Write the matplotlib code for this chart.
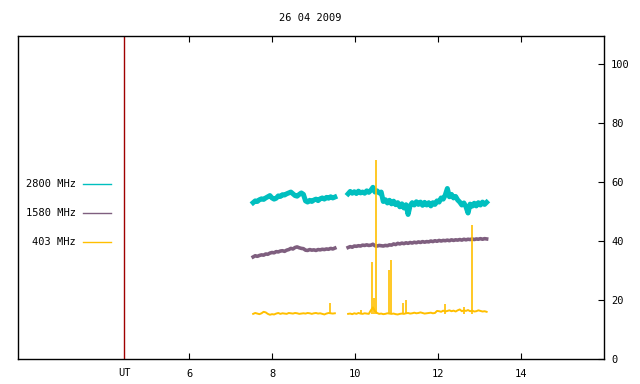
import matplotlib
matplotlib.use("Agg")
import matplotlib.pyplot as plt
from matplotlib.lines import Line2D
import numpy as np

title = "26 04 2009"
labels = ["2800 MHz", "1580 MHz", "403 MHz"]
colors = ["#00bfbf", "#7f5f7f", "#ffbf00"]

# two recording segments (UT hours)
seg1_span = (7.54, 9.51)
seg2_span = (9.83, 13.17)

f2800_a = [53.0, 53.6, 53.4, 54.0, 54.3, 54.1, 54.6, 55.0, 55.4, 54.6,
           54.2, 54.5, 55.3, 55.1, 55.7, 55.6, 56.0, 56.3, 56.6, 56.0,
           55.4, 55.2, 55.8, 56.3, 55.8, 53.6, 53.2, 53.8, 53.4, 53.9,
           54.2, 53.7, 54.3, 54.6, 54.2, 54.8, 54.5, 55.0, 54.6, 54.9]
f2800_b = [56.0, 56.8, 56.2, 56.7, 56.1, 56.9, 56.3, 56.6, 56.2, 57.0,
           56.5, 57.2, 58.2, 56.6, 57.0, 56.3, 56.6, 53.4, 54.0, 52.9,
           53.8, 52.6, 53.5, 52.3, 53.0, 51.6, 52.6, 51.2, 52.3, 49.0,
           52.0, 53.0, 52.2, 53.3, 52.4, 53.2, 52.1, 53.1, 52.2, 53.0,
           51.9, 53.0, 52.4, 53.6, 53.2, 54.6, 54.2, 55.6, 57.8, 55.0,
           55.8, 54.6, 55.1, 53.9, 53.2, 52.2, 52.9, 51.6, 49.5, 52.5,
           51.8, 52.8, 51.9, 53.0, 52.2, 53.2, 52.4, 53.1]

f1580_a = [34.6, 35.0, 34.8, 35.1, 35.3, 35.2, 35.6, 35.5, 35.9, 36.1,
           36.0, 36.4, 36.3, 36.6, 36.7, 36.5, 36.9, 37.1, 37.5, 37.3,
           37.8, 38.0, 37.7, 37.5, 37.4, 36.9, 36.8, 37.1, 36.9, 37.0,
           36.8, 37.1, 37.0, 37.2, 37.1, 37.3, 37.2, 37.5, 37.3, 37.6]
f1580_b = [37.8, 38.1, 37.9, 38.3, 38.2, 38.4, 38.3, 38.6, 38.5, 38.7,
           38.5, 38.6, 38.9, 38.4, 38.3, 38.5, 38.4, 38.3, 38.5, 38.4,
           38.7, 38.6, 39.0, 38.8, 39.2, 39.0, 39.3, 39.1, 39.4, 39.2,
           39.5, 39.3, 39.6, 39.4, 39.7, 39.5, 39.8, 39.6, 39.8, 39.7,
           40.0, 39.8, 40.1, 39.9, 40.2, 40.0, 40.2, 40.1, 40.3, 40.1,
           40.4, 40.2, 40.4, 40.3, 40.5, 40.3, 40.6, 40.4, 40.6, 40.5,
           40.7, 40.5, 40.7, 40.6, 40.8, 40.6, 40.8, 40.7]

f403_a = [15.3, 15.6, 15.4, 15.2, 15.5, 16.0, 15.8, 15.3, 15.0, 15.2,
          15.1, 15.4, 15.6, 15.3, 15.5, 15.4, 15.3, 15.6, 15.5, 15.4,
          15.6, 15.5, 15.3, 15.4, 15.5, 15.4, 15.6, 15.5, 15.3, 15.5,
          15.6, 15.4, 15.5, 15.3, 15.1, 15.4, 15.6, 15.5, 15.4, 15.5]
f403_b = [15.3, 15.4, 15.2, 15.5, 15.3, 15.6, 15.4, 15.3, 15.5, 15.4,
          15.3, 16.5, 17.5, 16.2, 15.6, 15.3, 15.4, 15.2, 15.3, 15.5,
          15.4, 15.3, 15.4, 15.2, 15.1, 15.3, 15.4, 15.3, 15.5, 15.6,
          15.4, 15.5, 15.7, 15.5, 15.6, 15.8, 15.6, 15.4, 15.5, 15.6,
          15.7, 15.5, 15.6, 16.3, 16.2, 16.0, 16.4, 16.1, 16.3, 16.5,
          16.2, 16.4, 16.1, 16.5, 16.8, 16.2, 16.5, 16.3, 16.6, 16.2,
          16.4, 16.1, 16.2, 16.5, 16.3, 16.1, 16.2, 16.0]

# 403 MHz bursts: time, peak
spike_t = [9.39, 10.14, 10.41, 10.46, 10.51, 10.82, 10.87, 11.16, 11.22, 12.17, 12.62, 12.82]
spike_v = [19.1, 16.6, 32.9, 20.7, 67.3, 30.2, 33.6, 19.1, 20.0, 18.6, 17.7, 45.4]
spike_base = 15.4

ut_mark = 4.43
xticks = [6, 8, 10, 12, 14]
yticks = [0, 20, 40, 60, 80, 100]

font = "DejaVu Sans Mono"
fs = 7.5

fig = plt.figure(figsize=(6.4, 3.84), dpi=100)
ax = fig.add_axes([18/640, 25/384, 586/640, 323/384])

t1 = np.linspace(seg1_span[0], seg1_span[1], len(f2800_a))
t2 = np.linspace(seg2_span[0], seg2_span[1], len(f2800_b))

for va, vb, c, lw in [(f403_a, f403_b, colors[2], 1.4),
                      (f1580_a, f1580_b, colors[1], 2.6),
                      (f2800_a, f2800_b, colors[0], 3.6)]:
    ax.plot(t1, va, color=c, lw=lw, solid_joinstyle="round")
    ax.plot(t2, vb, color=c, lw=lw, solid_joinstyle="round")

ax.vlines(spike_t, spike_base, spike_v, color=colors[2], lw=1.2)

ax.axvline(ut_mark, color="#a00000", lw=1.0)

ax.set_xlim(1.87, 16.0)
ax.set_ylim(0, 109.5)

ax.set_xticks(xticks)
ax.set_xticklabels([str(x) for x in xticks], family=font, fontsize=fs)
ax.tick_params(axis="x", direction="in", top=True, bottom=True, length=4, width=0.8, pad=7)
ax.yaxis.tick_right()
ax.set_yticks(yticks)
ax.set_yticklabels([str(y) for y in yticks], family=font, fontsize=fs)
ax.tick_params(axis="y", direction="in", right=True, left=False, length=4, width=0.8, pad=5)
for s in ax.spines.values():
    s.set_linewidth(1.0)

ax.text(ut_mark, -3.2, "UT", ha="center", va="top", family=font, fontsize=fs)

fig.text(310/640, 1 - 18/384, title, ha="center", va="center", family=font, fontsize=fs)

rows_y = [184, 213, 242]
for lab, c, yy in zip(labels, colors, rows_y):
    fig.text(76/640, 1 - yy/384, lab, ha="right", va="center", family=font, fontsize=fs)
    fig.add_artist(Line2D([83/640, 111/640], [1 - yy/384, 1 - yy/384], color=c, lw=1.0))

fig.savefig("out.png", dpi=100)
